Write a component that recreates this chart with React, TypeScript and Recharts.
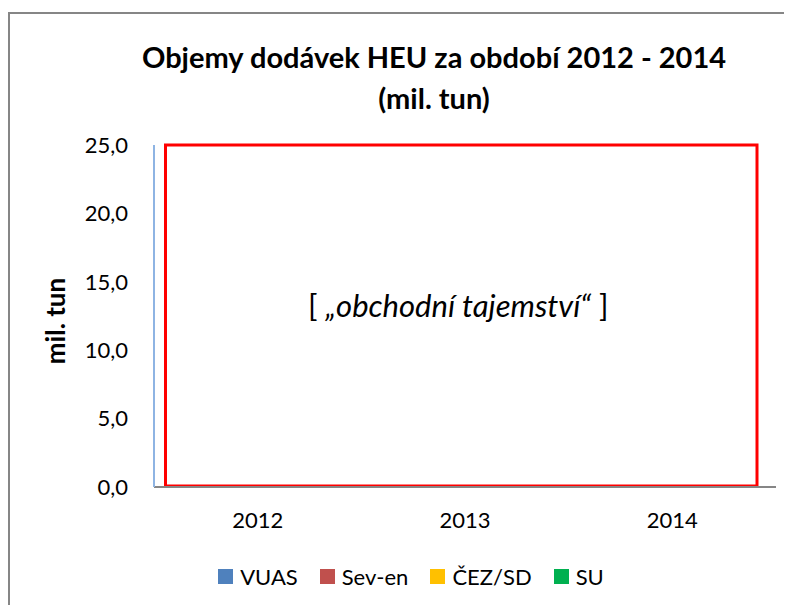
import { BarChart, Bar, XAxis, YAxis, Legend, ReferenceArea, Label } from "recharts";

// roky a objemy dodávek (hodnoty jsou utajené, v grafu nejsou vidět)
const years = ["2012", "2013", "2014"];
const vuas = [0, 0, 0];
const sevEn = [0, 0, 0];
const cezSd = [0, 0, 0];
const su = [0, 0, 0];
const yTicks = [0, 5, 10, 15, 20, 25];

const series = [
  { key: "vuas", name: "VUAS", color: "#4F81BD" },
  { key: "sevEn", name: "Sev-en", color: "#C0504D" },
  { key: "cezSd", name: "ČEZ/SD", color: "#FFC000" },
  { key: "su", name: "SU", color: "#00B050" },
];

const data = years.map((year, i) => ({
  year,
  vuas: vuas[i],
  sevEn: sevEn[i],
  cezSd: cezSd[i],
  su: su[i],
}));

const FONT = "Lato, 'Open Sans', sans-serif";
const fmt = (v: number) => v.toFixed(1).replace(".", ",");

const SecretBox = (props: any) => {
  const { x, y, width, height } = props;
  return (
    <rect
      x={x + 11.5}
      y={y}
      width={width - 30.5}
      height={height - 1}
      fill="none"
      stroke="#FF0000"
      strokeWidth={3}
    />
  );
};

const SecretLabel = (props: any) => {
  const { x, y, width, height } = props.viewBox;
  return (
    <text
      x={x + 11.5 + (width - 30.5) / 2 - 3}
      y={y + height / 2 - 11}
      textAnchor="middle"
      dominantBaseline="central"
      fontFamily={FONT}
      fontSize={31}
      fill="#000"
    >
      <tspan>[ </tspan>
      <tspan fontStyle="italic">„obchodní tajemství“</tspan>
      <tspan> ]</tspan>
    </text>
  );
};

const LegendBox = () => (
  <div style={{ display: "flex", justifyContent: "center", gap: 22, fontFamily: FONT, fontSize: 22 }}>
    {series.map((s) => (
      <div key={s.key} style={{ display: "flex", alignItems: "center", gap: 7 }}>
        <span style={{ width: 15, height: 15, background: s.color, display: "inline-block" }} />
        <span>{s.name}</span>
      </div>
    ))}
  </div>
);

export default function App() {
  return (
    <div
      style={{
        position: "relative",
        top: 4,
        width: 784,
        height: 597,
        borderTop: "2px solid #868686",
        borderLeft: "2px solid #868686",
        boxSizing: "border-box",
        background: "#fff",
      }}
    >
      <div
        style={{
          position: "absolute",
          left: 0,
          width: 848,
          top: 22,
          textAlign: "center",
          fontFamily: FONT,
          fontWeight: 700,
          fontSize: 29,
          lineHeight: "41px",
          color: "#000",
        }}
      >
        Objemy dodávek HEU za období 2012 - 2014
        <br />
        (mil. tun)
      </div>
      <BarChart
        width={782}
        height={595}
        data={data}
        margin={{ top: 131, right: 16, bottom: 62, left: 0 }}
      >
        <XAxis
          dataKey="year"
          height={60}
          axisLine={{ stroke: "#868686", strokeWidth: 2 }}
          tickLine={false}
          tickSize={0}
          tickMargin={25}
          tick={{ fill: "#000", fontSize: 22, fontFamily: FONT }}
        />
        <YAxis
          width={144}
          domain={[0, 25]}
          ticks={yTicks}
          tickFormatter={fmt}
          axisLine={{ stroke: "#8EB4E3", strokeWidth: 2 }}
          tickLine={false}
          tickSize={0}
          tickMargin={26}
          tick={{ fill: "#000", fontSize: 22, fontFamily: FONT }}
        >
          <Label
            value="mil. tun"
            angle={-90}
            position="insideLeft"
            offset={46}
            dy={5}
            style={{ fontFamily: FONT, fontWeight: 700, fontSize: 26, fill: "#000", textAnchor: "middle" }}
          />
        </YAxis>
        {series.map((s) => (
          <Bar key={s.key} dataKey={s.key} name={s.name} fill={s.color} isAnimationActive={false} />
        ))}
        <ReferenceArea y1={0} y2={25} shape={SecretBox} ifOverflow="visible">
          <Label content={SecretLabel} />
        </ReferenceArea>
        <Legend
          layout="horizontal"
          verticalAlign="middle"
          align="center"
          content={LegendBox}
          wrapperStyle={{ top: 549, left: 20, width: 762 }}
        />
      </BarChart>
    </div>
  );
}
